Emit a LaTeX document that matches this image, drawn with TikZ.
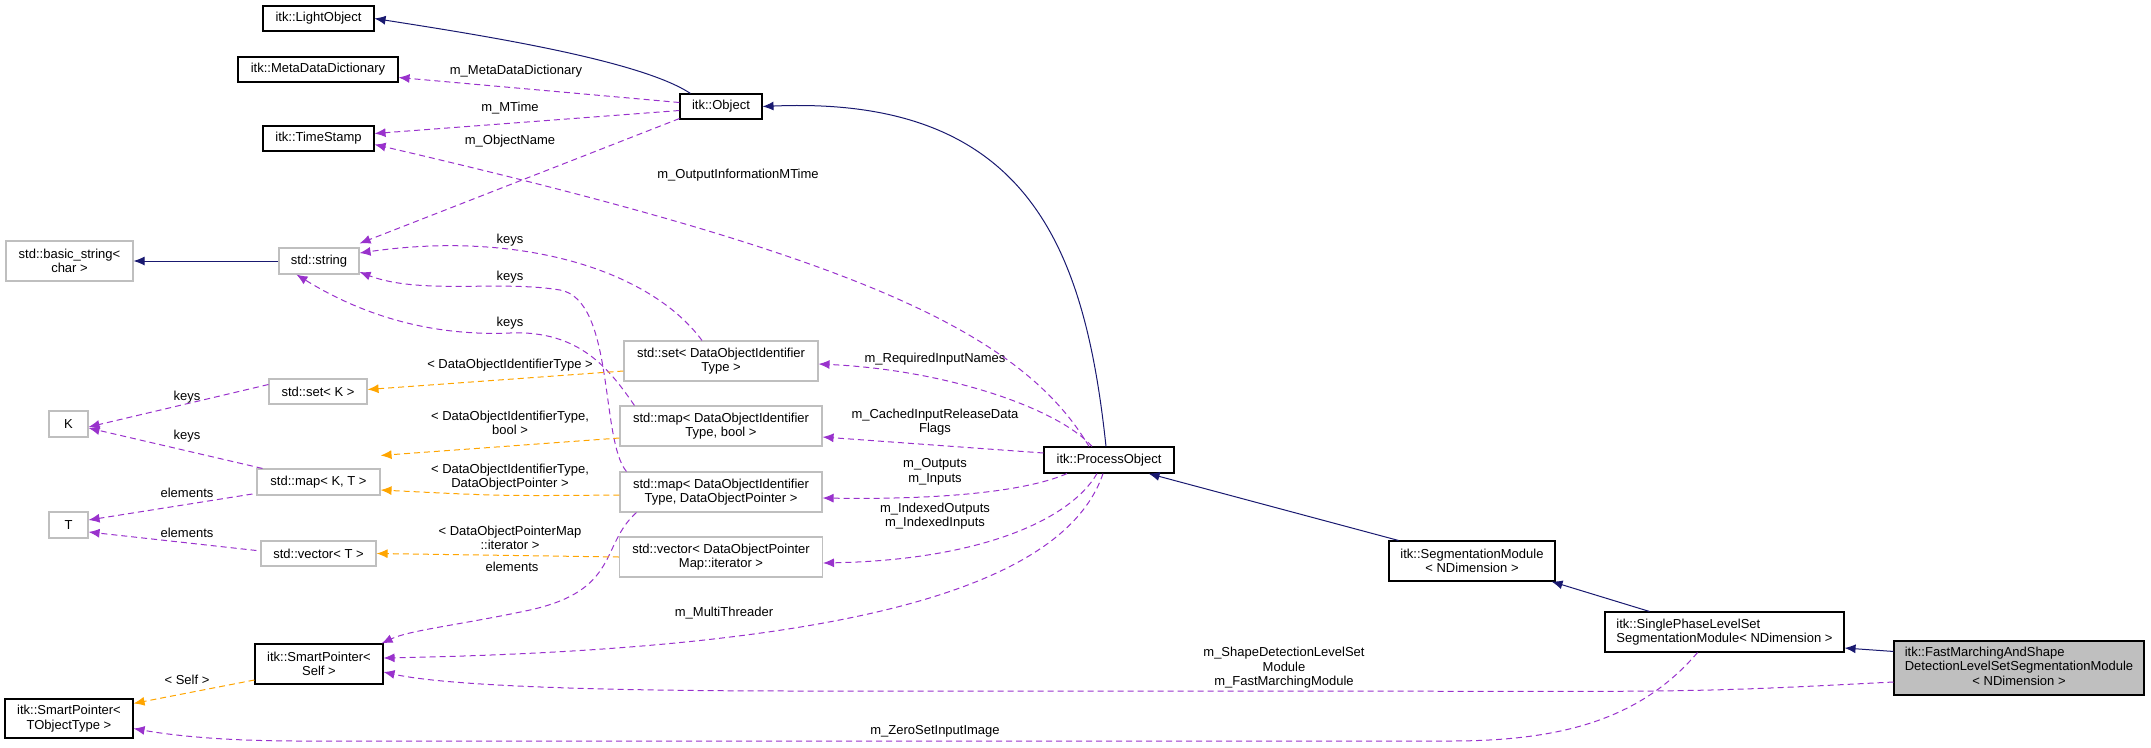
\documentclass[tikz,border=0pt]{standalone}
\usepackage{fontspec}
\setmainfont{Liberation Sans}
\usetikzlibrary{arrows.meta}
\definecolor{navy}{RGB}{25,25,112}
\definecolor{purp}{RGB}{153,50,204}
\definecolor{orng}{RGB}{255,165,0}
\definecolor{gbord}{RGB}{191,191,191}
\begin{document}
\begin{tikzpicture}[x=1pt,y=-1pt,
  txt/.style={font=\fontsize{13}{14.5}\selectfont,inner sep=0pt},
  bx/.style={txt,draw=black,line width=1.1pt,fill=white,align=center},
  gb/.style={txt,draw=gbord,line width=1.1pt,fill=white,align=center},
  lb/.style={txt,align=center},
  tip/.style={-{Latex[length=11pt,width=9pt]}},
  inh/.style={tip,draw=navy,line width=1pt},
  pu/.style={tip,draw=purp,line width=1pt,dash pattern=on 6pt off 4pt},
  og/.style={tip,draw=orng,line width=1pt,dash pattern=on 6pt off 4pt}]
\useasboundingbox (0,0) rectangle (2151,747);
% nodes
\node[bx,minimum width=111,minimum height=25] (lo) at (318.5,18.5) {itk::LightObject};
\node[bx,minimum width=160,minimum height=25] (mdd) at (318,69.5) {itk::MetaDataDictionary};
\node[bx,minimum width=111,minimum height=25] (ts) at (318.5,138.5) {itk::TimeStamp};
\node[bx,minimum width=82,minimum height=25] (obj) at (721,106.5) {itk::Object};
\node[gb,minimum width=127,minimum height=40] (bs) at (69.5,261) {std::basic\_string<\\char >};
\node[gb,minimum width=80,minimum height=26] (str) at (319,261) {std::string};
\node[gb,minimum width=194,minimum height=40] (setdoi) at (721,361) {std::set< DataObjectIdentifier\\Type >};
\node[gb,minimum width=202,minimum height=40] (mapb) at (721,426) {std::map< DataObjectIdentifier\\Type, bool >};
\node[gb,minimum width=202,minimum height=40] (mapdop) at (721,492) {std::map< DataObjectIdentifier\\Type, DataObjectPointer >};
\node[gb,minimum width=203,minimum height=40] (vecdop) at (721,557) {std::vector< DataObjectPointer\\Map::iterator >};
\node[gb,minimum width=98,minimum height=25] (setk) at (318,391.5) {std::set< K >};
\node[gb,minimum width=39,minimum height=26] (k) at (68.5,424) {K};
\node[gb,minimum width=123,minimum height=26] (mapkt) at (318.5,482) {std::map< K, T >};
\node[gb,minimum width=39,minimum height=26] (t) at (68.5,525) {T};
\node[gb,minimum width=115,minimum height=25] (vect) at (318.5,553.5) {std::vector< T >};
\node[bx,minimum width=128,minimum height=40] (spself) at (319,664) {itk::SmartPointer<\\Self >};
\node[bx,minimum width=128,minimum height=39] (spt) at (69,718.5) {itk::SmartPointer<\\TObjectType >};
\node[bx,minimum width=130,minimum height=26] (po) at (1109,460) {itk::ProcessObject};
\node[bx,minimum width=166,minimum height=40] (seg) at (1472,561) {itk::SegmentationModule\\< NDimension >};
\node[bx,minimum width=239,minimum height=40,align=left] (sp) at (1724.5,632) {itk::SinglePhaseLevelSet\\SegmentationModule< NDimension >};
\node[bx,minimum width=250,minimum height=54,fill=gbord] (fm) at (2019,668) {\begin{tabular}{@{}l@{}}itk::FastMarchingAndShape\\DetectionLevelSetSegmentationModule\\\multicolumn{1}{@{}c@{}}{< NDimension >}\end{tabular}};
% inheritance
\draw[inh] (obj.north west) ++(11,0) .. controls (640,60) and (480,35) .. (lo.east);
\draw[inh] (po.north) ++(-3,0) .. controls (1085,250) and (1030,95) .. (obj.east);
\draw[inh] (seg.north west) ++(10,0) -- ([xshift=-26]po.south east);
\draw[inh] (sp.north west) ++(45,0) -- ([xshift=-4]seg.south east);
\draw[inh] (fm.north west) ++(0,11) -- ([yshift=-16]sp.east);
\draw[inh] (str.west) -- (bs.east);
% purple members
\draw[pu] ([yshift=4]obj.west) -- ([yshift=-8]mdd.east);
\node[lb] (l1) at (516,71) {m\_MetaDataDictionary};
\draw[pu] ([yshift=-4]obj.west) -- ([yshift=5]ts.east);
\node[lb] (l2) at (510,108) {m\_MTime};
\draw[pu] (obj.south west) ++(0,-1) -- ([yshift=4]str.north east);
\node[lb] (l3) at (510,141) {m\_ObjectName};
\draw[pu] (po.north) ++(-20,0) .. controls (1020,330) and (850,255) .. ([yshift=-6]ts.east);
\node[lb] (l4) at (738,175) {m\_OutputInformationMTime};
\draw[pu] (setdoi.north) ++(-19,0) .. controls (650,270) and (520,230) .. ([yshift=8]str.east);
\node[lb] (k1) at (510,240) {keys};
\draw[pu] (mapdop.north west) ++(7,0) .. controls (600,440) and (615,300) .. (560,290) .. controls (500,280) and (420,295) .. ([yshift=-11]str.east);
\node[lb] (k2) at (510,277) {keys};
\draw[pu] (mapb.north west) ++(15,0) .. controls (610,370) and (580,330) .. (510,333) .. controls (440,336) and (370,320) .. ([xshift=18]str.south west);
\node[lb] (k3) at (510,323) {keys};
\draw[pu] (mapdop.south west) ++(17,0) .. controls (600,545) and (620,590) .. (530,610) .. controls (460,625) and (410,630) .. ([xshift=-2]spself.north east);
\node[lb] (l5) at (512,567) {elements};
\draw[pu] (setk.west) ++(0,-7) -- ([yshift=-3]k.east);
\node[lb] (l6) at (187,397) {keys};
\draw[pu] (mapkt.north west) ++(6,0) -- ([yshift=-4]k.east);
\node[lb] (l7) at (187,436) {keys};
\draw[pu] (mapkt.west) ++(-4,12) -- ([yshift=5]t.east);
\node[lb] (l8) at (187,493) {elements};
\draw[pu] (vect.west) ++(-4,-3) -- ([yshift=-7]t.east);
\node[lb] (l9) at (187,533) {elements};
\draw[pu] (po.north) ++(-17,0) .. controls (1060,410) and (950,370) .. ([yshift=-3]setdoi.east);
\node[lb] (l10) at (935,359) {m\_RequiredInputNames};
\draw[pu] (po.west) ++(0,-7) -- ([yshift=-11]mapb.east);
\node[lb] (l11) at (935,422) {m\_CachedInputReleaseData\\Flags};
\draw[pu] (po.south) ++(-42,0) .. controls (1030,490) and (950,500) .. ([yshift=-6]mapdop.east);
\node[lb] (l12) at (935,472) {m\_Outputs\\m\_Inputs};
\draw[pu] (po.south) ++(-12,0) .. controls (1070,520) and (980,560) .. ([yshift=-6]vecdop.east);
\node[lb] (l13) at (935,516) {m\_IndexedOutputs\\m\_IndexedInputs};
\draw[pu] (po.south) ++(-6,0) .. controls (1060,600) and (800,650) .. ([yshift=6]spself.east);
\node[lb] (l14) at (724,613) {m\_MultiThreader};
\draw[pu] (fm.west) ++(0,14) .. controls (1700,692) .. (1350,691) -- (800,691) .. controls (500,691) and (420,680) .. ([yshift=-8]spself.east);
\node[lb] (l15) at (1284,668) {m\_ShapeDetectionLevelSet\\Module\\m\_FastMarchingModule};
\draw[pu] (sp.south) ++(-27,0) .. controls (1640,720) and (1560,741) .. (1450,741) -- (300,741) .. controls (220,741) and (170,735) .. ([yshift=-10]spt.east);
\node[lb] (l16) at (935,731) {m\_ZeroSetInputImage};
% orange templates
\draw[og] (setdoi.west) ++(0,10) -- ([yshift=2]setk.east);
\node[lb] (l17) at (510,365) {< DataObjectIdentifierType >};
\draw[og] (mapb.west) ++(0,12) -- ([yshift=13]mapkt.north east);
\node[lb] (l18) at (510,423) {< DataObjectIdentifierType,\\bool >};
\draw[og] (mapdop.west) ++(0,3) .. controls (500,496) .. ([yshift=-8]mapkt.east);
\node[lb] (l19) at (510,477) {< DataObjectIdentifierType,\\DataObjectPointer >};
\draw[og] (vecdop.west) -- (vect.east);
\node[lb] (l20) at (510,538) {< DataObjectPointerMap\\::iterator >};
\draw[og] (spself.west) ++(0,16) -- ([yshift=-5]spt.north east);
\node[lb] (l21) at (187,680) {< Self >};
\end{tikzpicture}
\end{document}
